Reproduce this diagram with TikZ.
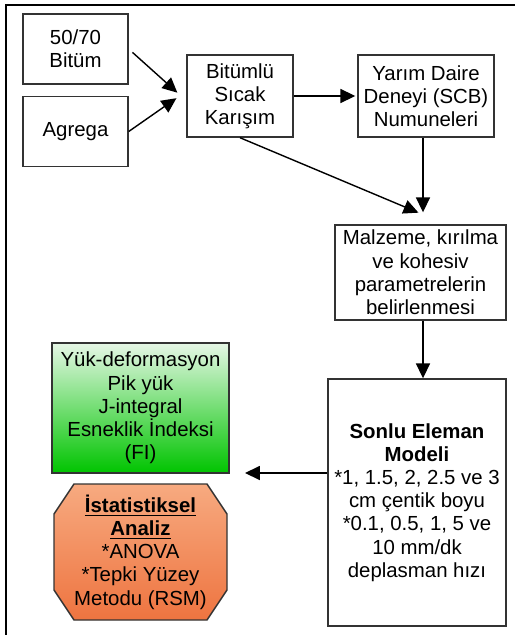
\documentclass[tikz,border=0pt]{standalone}
\usepackage{fontspec}
\setmainfont{Liberation Sans}
\usepackage{tikz}
\usetikzlibrary{arrows.meta}
\usetikzlibrary{calc}
\definecolor{yesilA}{HTML}{E6F7E6}
\definecolor{yesilB}{HTML}{00C400}
\definecolor{turuncuA}{HTML}{F7AA80}
\definecolor{turuncuB}{HTML}{EE7440}

\begin{document}
\begin{tikzpicture}[font=\fontsize{11.6}{13.2}\selectfont,
  kutu/.style={draw=black!80,line width=0.8pt,align=center,inner sep=0pt},
  ok/.style={-{Triangle[length=8.5pt,width=8pt]},line width=0.8pt}]
\useasboundingbox (0,0) rectangle (10.3,-12.7);
\draw[line width=1.5pt] (0.12,-12.7) -- (0.12,-0.1) -- (10.3,-0.1);
\draw (1.51,-0.98) node (bitum) [kutu,minimum width=2.1cm,minimum height=1.4cm] {50/70\\Bitüm};
\draw (1.51,-2.63) node (agrega) [kutu,minimum width=2.1cm,minimum height=1.4cm] {Agrega};
\draw (4.8,-1.92) node (karisim) [kutu,minimum width=2.12cm,minimum height=1.64cm] {Bitümlü\\Sıcak\\Karışım};
\draw (8.52,-1.92) node (yarim) [kutu,minimum width=2.72cm,minimum height=1.64cm] {Yarım Daire\\Deneyi (SCB)\\Numuneleri};
\draw (8.41,-5.45) node (malzeme) [kutu,minimum width=3.42cm,minimum height=1.9cm] {Malzeme, kırılma\\ve kohesiv\\parametrelerin\\belirlenmesi};
\draw (8.34,-10.05) node (sonlu) [kutu,minimum width=3.56cm,minimum height=4.94cm] {\textbf{Sonlu Eleman}\\\textbf{Modeli}\\{}*1, 1.5, 2, 2.5 ve 3\\cm çentik boyu\\{}*0.1, 0.5, 1, 5 ve\\10 mm/dk\\deplasman hızı};
\draw (2.81,-8.16) node (cikti) [kutu,minimum width=3.54cm,minimum height=2.6cm,top color=yesilA,bottom color=yesilB] {Yük-deformasyon\\Pik yük\\J-integral\\Esneklik İndeksi\\(FI)};
% sekizgen
\draw[draw=black!80,line width=0.8pt,top color=turuncuA,bottom color=turuncuB] (1.48,-9.68) -- (4.14,-9.68) -- (4.54,-10.28) -- (4.54,-11.8) -- (4.14,-12.4) -- (1.48,-12.4) -- (1.08,-11.8) -- (1.08,-10.28) -- cycle;
\draw (2.81,-11.04) node (analiz) [align=center] {\textbf{\underline{İstatistiksel}}\\\textbf{\underline{Analiz}}\\{}*ANOVA\\{}*Tepki Yüzey\\Metodu (RSM)};
% oklar
\draw[ok,shorten <=0.1cm,shorten >=0.24cm] (bitum.east) -- (karisim.185);
\draw[ok,shorten >=0.24cm] (agrega.east) -- (karisim.175);
\draw[ok,shorten >=0.04cm] (karisim.east) -- (yarim.west);
\draw[ok,shorten >=0.6cm] (karisim.south) -- (malzeme.62);
\draw[ok,shorten >=0.24cm] ([xshift=-0.06cm]yarim.south) -- ([xshift=-0.06cm]yarim.south |- malzeme.north);
\draw[ok] ([xshift=0.05cm]malzeme.south) -- ([xshift=0.05cm]malzeme.south |- sonlu.north);
\coordinate (hedef) at (4.9,-9.46);
\draw[ok] (sonlu.west |- hedef) -- (hedef);
\end{tikzpicture}
\end{document}
